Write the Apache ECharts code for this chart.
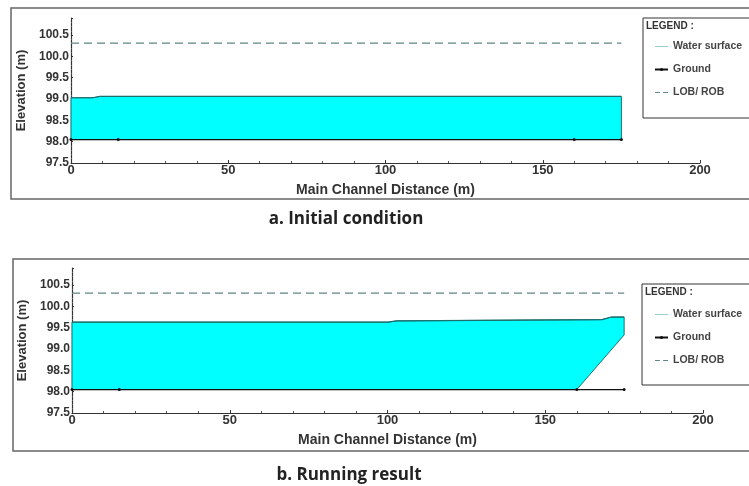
<!DOCTYPE html>
<html>
<head>
<meta charset="utf-8">
<script src="https://cdn.jsdelivr.net/npm/echarts@6/dist/echarts.min.js"></script>
<style>
  html, body { margin: 0; padding: 0; background: #fff; }
  #main { width: 749px; height: 486px; }
</style>
</head>
<body>
<div id="main"></div>
<script>
// profile points as [distance (m), elevation (m)]
const initialSurface = [[0, 99.03], [7, 99.03], [9, 99.06], [175, 99.06]];
const initialBed = [[175, 98.05], [0, 98.05]];
const resultSurface = [[0, 99.63], [100, 99.63], [103, 99.66], [168, 99.69], [171, 99.75], [175, 99.75]];
const resultBed = [[175, 99.33], [160, 98.05], [0, 98.05]];
const groundPoints = [[0, 98.05], [15, 98.05], [160, 98.05], [175, 98.05]];
const bankPoints = [[0, 100.31], [175, 100.31]];
const legendNames = ['Water surface', 'Ground', 'LOB/ ROB'];
const panelTitles = ['a. Initial condition', 'b. Running result'];

const font = '"Liberation Sans", Arial, sans-serif';
// thin line shapes for the legend keys (kept in aspect by the legend)
const solidKey = 'path://M0,0L16,0L16,1L0,1Z';
const dashKey = 'path://M0,0L6,0L6,1L0,1ZM10,0L16,0L16,1L10,1Z';

function waterPolygon(points) {
    return function (params, api) {
        if (params.dataIndex !== 0) return;
        return {
            type: 'polygon',
            shape: { points: points.map(p => api.coord(p)) },
            style: { fill: '#00ffff', stroke: '#1d6f6f', lineWidth: 1 }
        };
    };
}

function xAxisFor(idx) {
    return {
        gridIndex: idx, type: 'value', min: 0, max: 200, interval: 50,
        name: 'Main Channel Distance (m)', nameLocation: 'middle', nameGap: 20,
        nameTextStyle: { fontFamily: font, fontWeight: 'bold', fontSize: 14, color: '#333' },
        axisLine: { lineStyle: { color: '#333', width: 1.2 } },
        axisTick: { inside: true, length: 3, lineStyle: { color: '#333' } },
        minorTick: { show: true, splitNumber: 5, length: 2, lineStyle: { color: '#555' } },
        axisLabel: { margin: 1, fontFamily: font, fontWeight: 'bold', fontSize: 13, color: '#333' },
        splitLine: { show: false }
    };
}

function yAxisFor(idx) {
    return {
        gridIndex: idx, type: 'value', min: 97.5, max: 100.9, interval: 0.5,
        name: 'Elevation (m)', nameLocation: 'middle', nameGap: 42,
        nameTextStyle: { fontFamily: font, fontWeight: 'bold', fontSize: 13, color: '#333' },
        axisLine: { show: true, lineStyle: { color: '#333', width: 1.2 } },
        axisTick: { inside: true, length: 2, lineStyle: { color: '#333' } },
        minorTick: { show: true, splitNumber: 5, length: 1, lineStyle: { color: '#666' } },
        axisLabel: {
            margin: 2, fontFamily: font, fontWeight: 'bold', fontSize: 12, color: '#333',
            showMaxLabel: false, formatter: v => v.toFixed(1)
        },
        splitLine: { show: false }
    };
}

function seriesFor(idx, surface, bed) {
    return [
        {
            type: 'custom', xAxisIndex: idx, yAxisIndex: idx, silent: true, z: 1,
            renderItem: waterPolygon(surface.concat(bed)),
            data: [surface[0]]
        },
        {
            name: legendNames[2], type: 'line', xAxisIndex: idx, yAxisIndex: idx, z: 2,
            data: bankPoints, symbol: 'none',
            lineStyle: { color: '#5d8583', width: 1.2, type: [8, 5] }, itemStyle: { color: '#5d8583' }
        },
        {
            name: legendNames[0], type: 'line', xAxisIndex: idx, yAxisIndex: idx, z: 3,
            data: surface, symbol: 'none',
            lineStyle: { color: '#1d6f6f', width: 1.2 }, itemStyle: { color: '#1d6f6f' }
        },
        {
            name: legendNames[1], type: 'line', xAxisIndex: idx, yAxisIndex: idx, z: 4,
            data: groundPoints, symbol: 'circle', symbolSize: 3,
            lineStyle: { color: '#111', width: 1.2 }, itemStyle: { color: '#111' }
        }
    ];
}

function legendFor(id, top) {
    return {
        id: id, orient: 'vertical', left: 649, top: top, itemGap: 12, itemWidth: 13, itemHeight: 4,
        itemTextGap: 4, selectedMode: false,
        textStyle: { fontFamily: font, fontSize: 10.5, fontWeight: 'bold', color: '#444' },
        data: [
            { name: legendNames[0], icon: solidKey, itemStyle: { color: '#7fc4c4' } },
            legendNames[1],
            { name: legendNames[2], icon: dashKey, itemStyle: { color: '#5d8583' } }
        ]
    };
}

const chart = echarts.init(document.getElementById('main'));
chart.setOption({
    animation: false,
    grid: [
        { left: 71, top: 18, width: 629, height: 145 },
        { left: 72, top: 268, width: 631, height: 145 }
    ],
    xAxis: [xAxisFor(0), xAxisFor(1)],
    yAxis: [yAxisFor(0), yAxisFor(1)],
    legend: [legendFor('legTop', 36), legendFor('legBottom', 304)],
    series: seriesFor(0, initialSurface, initialBed).concat(seriesFor(1, resultSurface, resultBed)),
    graphic: [
        { type: 'rect', shape: { x: 11, y: 8, width: 760, height: 191 }, style: { fill: null, stroke: '#666', lineWidth: 1.5 }, z: -1 },
        { type: 'rect', shape: { x: 13, y: 259, width: 760, height: 192 }, style: { fill: null, stroke: '#666', lineWidth: 1.5 }, z: -1 },
        { type: 'rect', shape: { x: 643, y: 18, width: 120, height: 100 }, style: { fill: null, stroke: '#333', lineWidth: 1 } },
        { type: 'rect', shape: { x: 642, y: 284, width: 120, height: 101 }, style: { fill: null, stroke: '#333', lineWidth: 1 } },
        { type: 'text', x: 646, y: 21, style: { text: 'LEGEND :', font: 'bold 10px ' + font, fill: '#333' } },
        { type: 'text', x: 645, y: 287, style: { text: 'LEGEND :', font: 'bold 10px ' + font, fill: '#333' } },
        { type: 'text', x: 346, y: 219, style: { text: panelTitles[0], font: 'bold 17px "Open Sans", ' + font, fill: '#222', align: 'center', verticalAlign: 'middle' } },
        { type: 'text', x: 349, y: 475, style: { text: panelTitles[1], font: 'bold 17px "Open Sans", ' + font, fill: '#222', align: 'center', verticalAlign: 'middle' } }
    ]
});
</script>
</body>
</html>
